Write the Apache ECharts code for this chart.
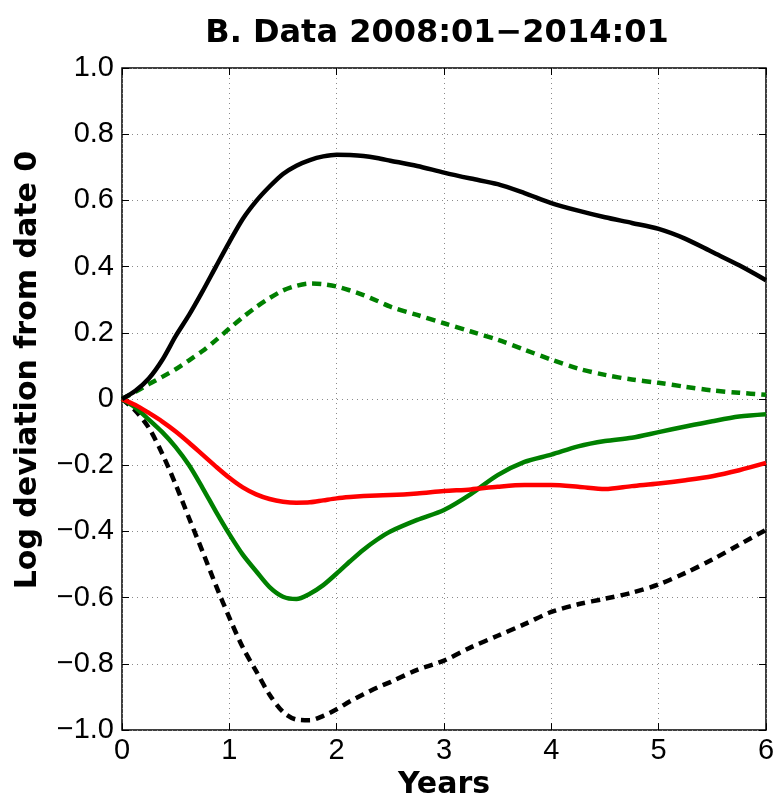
<!DOCTYPE html>
<html><head><meta charset="utf-8">
<script src="https://cdn.jsdelivr.net/npm/echarts@6/dist/echarts.min.js"></script>
<style>html,body{margin:0;padding:0;background:#fff}#c{width:779px;height:805px}</style>
</head><body><div id="c"></div>
<script>
const years = [0,0.125,0.25,0.375,0.5,0.625,0.75,0.875,1,1.125,1.25,1.375,1.5,1.625,1.75,1.875,2,2.125,2.25,2.375,2.5,
  2.75,3,3.25,3.5,3.75,4,4.25,4.5,4.75,5,5.25,5.5,5.75,6];
const blackSolid = [0,0.025,0.062,0.118,0.19,0.254,0.325,0.40,0.474,0.544,0.598,0.642,0.68,0.705,0.722,0.733,0.738,0.737,0.734,0.728,0.72,
  0.704,0.684,0.666,0.649,0.622,0.592,0.569,0.549,0.532,0.514,0.484,0.444,0.404,0.359];
const greenDashed = [0,0.022,0.045,0.067,0.09,0.117,0.145,0.178,0.213,0.247,0.278,0.305,0.328,0.342,0.349,0.347,0.34,0.328,0.314,0.297,0.279,
  0.254,0.229,0.204,0.179,0.149,0.119,0.092,0.073,0.059,0.049,0.037,0.026,0.019,0.013];
const redSolid = [0,-0.018,-0.042,-0.068,-0.098,-0.132,-0.168,-0.204,-0.238,-0.267,-0.288,-0.302,-0.31,-0.313,-0.312,-0.306,-0.30,-0.296,-0.293,-0.291,-0.29,
  -0.285,-0.278,-0.273,-0.265,-0.26,-0.26,-0.265,-0.272,-0.263,-0.255,-0.245,-0.233,-0.215,-0.193];
const greenSolid = [0,-0.026,-0.062,-0.1,-0.145,-0.2,-0.268,-0.34,-0.408,-0.47,-0.52,-0.568,-0.597,-0.604,-0.588,-0.562,-0.527,-0.49,-0.455,-0.425,-0.4,
  -0.365,-0.335,-0.287,-0.23,-0.19,-0.168,-0.143,-0.127,-0.117,-0.1,-0.083,-0.067,-0.053,-0.046];
const blackDashed = [0,-0.035,-0.087,-0.165,-0.258,-0.36,-0.46,-0.563,-0.66,-0.75,-0.822,-0.893,-0.945,-0.968,-0.97,-0.957,-0.937,-0.913,-0.892,-0.872,-0.855,
  -0.818,-0.79,-0.75,-0.715,-0.68,-0.643,-0.62,-0.603,-0.585,-0.56,-0.525,-0.485,-0.44,-0.395];
const xTicks = [0,1,2,3,4,5,6];
const yTickLabels = {"1":"1.0","0.8":"0.8","0.6":"0.6","0.4":"0.4","0.2":"0.2","0":"0","-0.2":"\u22120.2","-0.4":"\u22120.4","-0.6":"\u22120.6","-0.8":"\u22120.8","-1":"\u22121.0"};

const pairs = arr => years.map((t,i)=>[t,arr[i]]);
const tickFont = '"Liberation Sans",Arial,sans-serif';
const boldFont = '"DejaVu Sans",sans-serif';
const chart = echarts.init(document.getElementById('c'));
const gridLine = {show:true,lineStyle:{color:'#8a8a8a',width:1,type:[1,4]}};
const tick = {show:true,inside:true,length:7,lineStyle:{color:'#000',width:1}};
const mk = (name,data,color,dashed)=>({
  name,type:'line',data:pairs(data),smooth:0.3,symbol:'none',z:dashed?3:4,
  lineStyle:{color,width:4.5,type:dashed?[9,6]:'solid',cap:'butt',join:'round'}
});
chart.setOption({
  animation:false,
  title:{text:'B. Data 2008:01\u22122014:01',left:432,top:13,textAlign:'center',
    textStyle:{fontFamily:boldFont,fontWeight:'bold',fontSize:32,color:'#000'}},
  grid:{left:122,right:13,top:68,bottom:70,show:true,borderColor:'#000',borderWidth:1.5,backgroundColor:'#fff'},
  xAxis:[{type:'value',min:0,max:6,interval:1,position:'bottom',
    name:'Years',nameLocation:'middle',nameGap:36,
    nameTextStyle:{fontFamily:boldFont,fontWeight:'bold',fontSize:30,color:'#000'},
    axisLine:{show:false,onZero:false},axisTick:tick,
    axisLabel:{fontFamily:tickFont,fontSize:29,color:'#000',margin:6,formatter:v=>String(v)},
    splitLine:gridLine},
   {type:'value',min:0,max:6,interval:1,position:'top',axisLine:{show:false,onZero:false},
    axisTick:tick,axisLabel:{show:false},splitLine:{show:false}}],
  yAxis:[{type:'value',min:-1,max:1,interval:0.2,position:'left',
    name:'Log deviation from date 0',nameLocation:'middle',nameGap:79,nameRotate:90,
    nameTextStyle:{fontFamily:boldFont,fontWeight:'bold',fontSize:30,color:'#000',padding:[0,0,0,58]},
    axisLine:{show:false,onZero:false},axisTick:tick,
    axisLabel:{fontFamily:tickFont,fontSize:29,color:'#000',margin:8,
      formatter:v=>yTickLabels[String(Math.round(v*10)/10)]},
    splitLine:gridLine},
   {type:'value',min:-1,max:1,interval:0.2,position:'right',axisLine:{show:false,onZero:false},
    axisTick:tick,axisLabel:{show:false},splitLine:{show:false}}],
  series:[
    mk('blackDashed',blackDashed,'#000000',true),
    mk('greenDashed',greenDashed,'#008000',true),
    mk('greenSolid',greenSolid,'#008000',false),
    mk('redSolid',redSolid,'#ff0000',false),
    mk('blackSolid',blackSolid,'#000000',false)
  ]
});
</script></body></html>
